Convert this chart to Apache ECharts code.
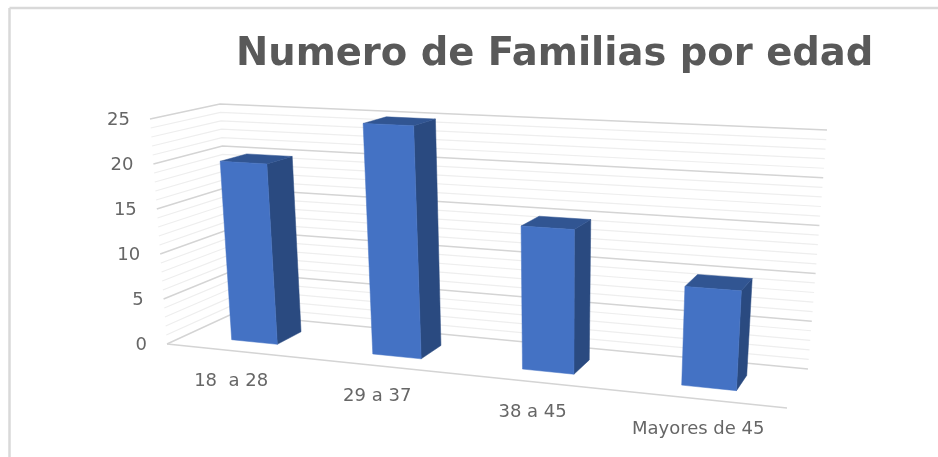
<!DOCTYPE html>
<html>
<head>
<meta charset="utf-8">
<title>Numero de Familias por edad</title>
<script src="https://cdn.jsdelivr.net/npm/echarts@6/dist/echarts.min.js"></script>
<style>
  html, body { margin: 0; padding: 0; background: #fff; }
  #chart { width: 938px; height: 457px; }
</style>
</head>
<body>
<div id="chart"></div>
<script>
const categories = ['18  a 28', '29 a 37', '38 a 45', 'Mayores de 45'];
const familias = [20, 25, 15, 10];
const yTicks = [0, 5, 10, 15, 20, 25];
const minorTicks = [1, 2, 3, 4, 6, 7, 8, 9, 11, 12, 13, 14, 16, 17, 18, 19, 21, 22, 23, 24];

// the 3D box of the plot as it lands on screen: front-left, front-right, back-right, back-left
const floorQuad = [[167, 344], [787, 408], [808, 369], [232, 314]];
const roofQuad = [[150, 119], [803, 150], [827, 130], [220, 104]];
const barShare = 0.33; // part of a category band taken by the bar
const barDepth = [0.28, 0.68];
const labelDepth = -0.08;
const labelDrop = 27;

// homography that sends the unit square on a quad
function squareToQuad(q) {
  const [[x0, y0], [x1, y1], [x2, y2], [x3, y3]] = q;
  const dx1 = x1 - x2, dx2 = x3 - x2, sx = x0 - x1 + x2 - x3;
  const dy1 = y1 - y2, dy2 = y3 - y2, sy = y0 - y1 + y2 - y3;
  const det = dx1 * dy2 - dx2 * dy1;
  const g = (sx * dy2 - dx2 * sy) / det;
  const h = (dx1 * sy - sx * dy1) / det;
  const a = x1 - x0 + g * x1, b = x3 - x0 + h * x3;
  const d = y1 - y0 + g * y1, e = y3 - y0 + h * y3;
  return (u, w) => {
    const k = g * u + h * w + 1;
    return [(a * u + b * w + x0) / k, (d * u + e * w + y0) / k];
  };
}
const floorAt = squareToQuad(floorQuad);
const roofAt = squareToQuad(roofQuad);

// u: along the categories, v: along the value axis, w: depth (all 0..1)
function project(u, v, w) {
  const p = floorAt(u, w), q = roofAt(u, w);
  return [p[0] + (q[0] - p[0]) * v, p[1] + (q[1] - p[1]) * v];
}
function toUnit(params, pt) {
  const cs = params.coordSys;
  return [(pt[0] - cs.x) / cs.width, (cs.y + cs.height - pt[1]) / cs.height];
}
function poly(points, fill) {
  return { type: 'polygon', shape: { points }, style: { fill, stroke: fill, lineWidth: 0.5 } };
}

function renderWall(params, api) {
  const level = api.value(1);
  const v = toUnit(params, api.coord([0, level]))[1];
  const major = level % 5 === 0;
  return {
    type: 'polyline',
    shape: { points: [project(0, v, 0), project(0, v, 1), project(1, v, 1)] },
    style: { fill: 'none', stroke: major ? '#d4d4d4' : '#eeeeee', lineWidth: major ? 1.5 : 1.2 }
  };
}
function renderBar(params, api) {
  const c = api.coord([api.value(0), api.value(1)]);
  const half = api.size([1, 0])[0] * barShare / 2;
  const u0 = toUnit(params, [c[0] - half, c[1]])[0];
  const u1 = toUnit(params, [c[0] + half, c[1]])[0];
  const v = toUnit(params, c)[1];
  const [w0, w1] = barDepth;
  return {
    type: 'group',
    children: [
      poly([project(u1, 0, w0), project(u1, 0, w1), project(u1, v, w1), project(u1, v, w0)], '#2a4a80'),
      poly([project(u0, v, w0), project(u1, v, w0), project(u1, v, w1), project(u0, v, w1)], '#315592'),
      poly([project(u0, 0, w0), project(u1, 0, w0), project(u1, v, w0), project(u0, v, w0)], '#4472c4')
    ]
  };
}
function renderYLabel(params, api) {
  const level = api.value(1);
  const v = toUnit(params, api.coord([0, level]))[1];
  const p = project(0, v, 0);
  return {
    type: 'text',
    style: {
      text: String(level), x: p[0] - 20, y: p[1] + 1, align: 'right', verticalAlign: 'middle',
      fontFamily: 'DejaVu Sans', fontSize: 18, fill: '#666666'
    }
  };
}
function renderXLabel(params, api) {
  const i = api.value(0);
  const u = toUnit(params, api.coord([i, 0]))[0];
  const p = floorAt(u, labelDepth);
  return {
    type: 'text',
    style: {
      text: categories[i], x: p[0], y: p[1] + labelDrop, align: 'center', verticalAlign: 'middle',
      fontFamily: 'DejaVu Sans', fontSize: 18, fill: '#666666'
    }
  };
}

const chart = echarts.init(document.getElementById('chart'));
chart.setOption({
  animation: false,
  backgroundColor: '#ffffff',
  title: {
    text: 'Numero de Familias por edad',
    left: 231,
    top: 30,
    textStyle: { fontFamily: 'DejaVu Sans', fontWeight: 'bold', fontSize: 38.5, color: '#595959' }
  },
  graphic: [
    { type: 'line', shape: { x1: 9.5, y1: 8, x2: 938, y2: 8 }, style: { stroke: '#d9d9d9', lineWidth: 2.5 } },
    { type: 'line', shape: { x1: 9.5, y1: 8, x2: 9.5, y2: 457 }, style: { stroke: '#d9d9d9', lineWidth: 2.5 } }
  ],
  grid: { left: 0, right: 0, top: 0, bottom: 0 },
  xAxis: { type: 'category', data: categories, show: false },
  yAxis: { type: 'value', min: 0, max: 25, interval: 5, show: false },
  series: [
    { type: 'custom', name: 'minor', silent: true, clip: false, renderItem: renderWall, data: minorTicks.map(t => [0, t]) },
    { type: 'custom', name: 'major', silent: true, clip: false, renderItem: renderWall, data: yTicks.map(t => [0, t]) },
    {
      type: 'custom', name: 'front', silent: true, clip: false, data: [[0, 0]],
      renderItem: () => ({
        type: 'line',
        shape: { x1: floorQuad[0][0], y1: floorQuad[0][1], x2: floorQuad[1][0], y2: floorQuad[1][1] },
        style: { stroke: '#d4d4d4', lineWidth: 1.5 }
      })
    },
    { type: 'custom', name: 'Familias', clip: false, renderItem: renderBar, data: familias.map((f, i) => [i, f]) },
    { type: 'custom', name: 'yLabels', silent: true, clip: false, renderItem: renderYLabel, data: yTicks.map(t => [0, t]) },
    { type: 'custom', name: 'xLabels', silent: true, clip: false, renderItem: renderXLabel, data: categories.map((c, i) => [i, 0]) }
  ]
});
</script>
</body>
</html>
